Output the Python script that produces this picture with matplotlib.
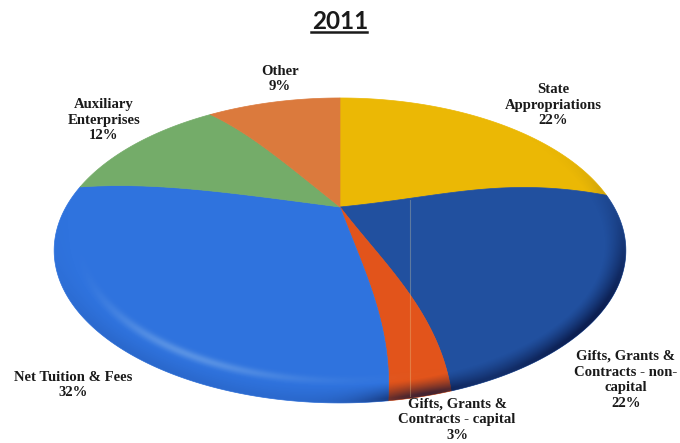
import numpy as np
import matplotlib
matplotlib.use("Agg")
import matplotlib.pyplot as plt
from matplotlib.patches import Polygon

# funding sources, clockwise from twelve o'clock
labels = ["State\nAppropriations", "Gifts, Grants &\nContracts - non-\ncapital",
          "Gifts, Grants &\nContracts - capital", "Net Tuition & Fees",
          "Auxiliary\nEnterprises", "Other"]
values = [22, 22, 3, 32, 12, 9]
colors = ["#EBB805", "#21509F", "#E2541B", "#2F73DE", "#74AC69", "#DB7A3D"]
label_xy = [(553, 105), (626, 380), (457, 420), (73, 385), (104, 120), (280, 79)]

# tilted disc: apex position and perspective terms, in pixels
CX, CY = 340.0, 207.0
A, B, K = 274.0, 140.1, 0.285
SKEW = 6.0
BOW = 4.0


def bump(x, mid, sig):
    return np.exp(-((x - mid) / sig) ** 2)


def disc_to_px(deg, r=1.0):
    """deg is clockwise from the top of the disc; spokes bend a little with r"""
    s = np.sin(np.radians(deg))
    off = SKEW * s * r ** 3 - BOW * np.sin(np.pi * r) * np.maximum(s, 0)
    off = off + 2.5 * bump(deg, 166, 22) * r ** 3
    th = np.radians(deg + off)
    u, v = r * np.sin(th), r * np.cos(th)
    d = 1 + K * v
    return CX + A * u / d, CY - B * v / d


def px_to_disc(px, py):
    x, y = px - CX, CY - py
    v = y / (B - K * y)
    u = x * (1 + K * v) / A
    deg = np.degrees(np.arctan2(u, v)) % 360
    return np.hypot(u, v), deg


fig = plt.figure(figsize=(6.8, 4.43), dpi=100)
ax = fig.add_axes([0, 0, 1, 1])
ax.set_xlim(0, 680)
ax.set_ylim(443, 0)
ax.axis("off")

# slices
edges = np.cumsum([0] + values) / sum(values) * 360
spoke = np.linspace(0, 1, 60)
for start, end, col in zip(edges[:-1], edges[1:], colors):
    t = np.linspace(start, end, 200)
    x0, y0 = disc_to_px(np.full(60, start), spoke)
    x1, y1 = disc_to_px(t)
    x2, y2 = disc_to_px(np.full(60, end), spoke[::-1])
    ax.fill(np.r_[x0, x1, x2], np.r_[y0, y1, y2], facecolor=col, edgecolor=col, lw=0.5, zorder=2)

# rim shading and the pale highlight on the front edge
gx, gy = np.meshgrid(np.arange(680) + 0.5, np.arange(443) + 0.5)
rr, dd = px_to_disc(gx, gy)
dark = np.clip((rr - 0.93) / 0.06, 0, 1) ** 1.3
side = 0.75 * bump(dd, 132, 34) + 0.45 * bump(dd, 168, 8) + 0.10 * bump(dd, 215, 30)
shade = np.zeros(gx.shape + (4,))
shade[..., :3] = (0.02, 0.06, 0.22)
shade[..., 3] = np.clip(dark * side, 0, 0.8)
img = ax.imshow(shade, extent=(0, 680, 443, 0), zorder=3, aspect="auto", interpolation="bilinear")

glow = np.zeros(gx.shape + (4,))
glow[..., :3] = (0.72, 0.85, 0.95)
glow[..., 3] = 0.30 * bump(rr, 0.915, 0.016) * bump(dd, 208, 22)
img2 = ax.imshow(glow, extent=(0, 680, 443, 0), zorder=3, aspect="auto", interpolation="bilinear")

t = np.linspace(0, 360, 720)
rim = Polygon(np.c_[disc_to_px(t)], closed=True, transform=ax.transData)
img.set_clip_path(rim)
img2.set_clip_path(rim)
ax.set_xlim(0, 680)
ax.set_ylim(443, 0)

# faint vertical streak across the lower slices
ax.plot([409.5, 409.5], [200, 396], color="#E8D9A0", lw=0.8, alpha=0.3, zorder=4)

for name, val, (x, y) in zip(labels, values, label_xy):
    ax.text(x, y, f"{name}\n{val}%", ha="center", va="center", fontsize=10.6,
            family="Liberation Serif", fontweight="bold", color="#1A1A1A",
            linespacing=1.27, zorder=5)

ax.text(340, 21, "2011", ha="center", va="center", fontsize=17.5,
        family="Lato", fontweight="bold", color="#1A1A1A")
ax.plot([311, 367], [31.5, 31.5], color="#1A1A1A", lw=1.8, zorder=5)

fig.savefig("out.png", dpi=100, facecolor="white")
